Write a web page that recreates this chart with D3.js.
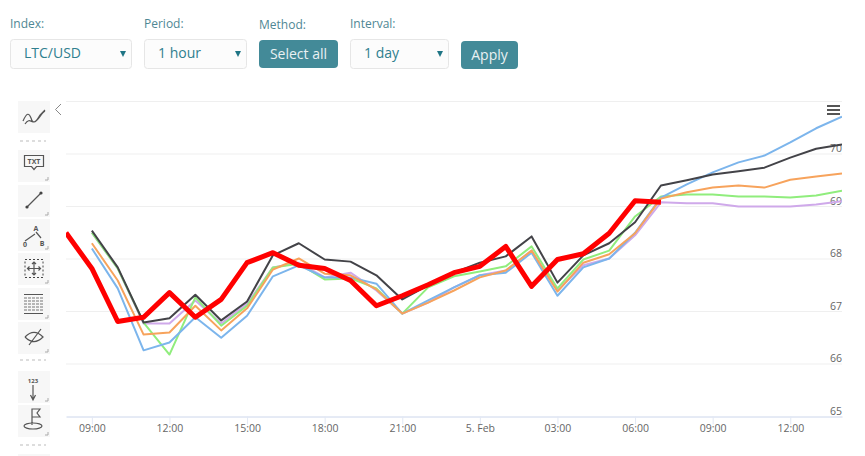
<!DOCTYPE html>
<html>
<head>
<meta charset="utf-8">
<script src="https://cdn.jsdelivr.net/npm/d3@7"></script>
<style>
  html, body { margin: 0; padding: 0; background: #fff; overflow: hidden; }
  svg { display: block; }
  .form-label { font: 12px "Open Sans", sans-serif; fill: #4f8794; }
  .select-text { font: 14px "Open Sans", sans-serif; fill: #2f7f8f; }
  .button-text { font: 14px "Open Sans", sans-serif; fill: #e9f1f3; }
  .x-axis text, .y-label { font: 10.5px "Open Sans", sans-serif; fill: #666; }
</style>
</head>
<body>
<div id="wrapper"></div>
<script>
// hourly values, first point of the red series is one hour earlier than the rest
const redValues = [68.50,67.82,66.81,66.89,67.36,66.89,67.23,67.93,68.12,67.88,67.82,67.59,67.11,67.30,67.51,67.74,67.86,68.24,67.48,67.99,68.10,68.49,69.11,69.08]
const blackValues = [68.54,67.84,66.79,66.87,67.32,66.83,67.19,68.07,68.30,67.99,67.95,67.69,67.23,67.50,67.74,67.93,68.05,68.43,67.55,68.07,68.30,68.70,69.40,69.50,69.61,69.67,69.74,69.93,70.10,70.18]
const blueValues = [68.20,67.44,66.26,66.41,66.89,66.50,66.92,67.67,67.88,67.65,67.65,67.53,66.96,67.21,67.46,67.69,67.74,68.12,67.30,67.84,68.01,68.50,69.17,69.42,69.65,69.84,69.97,70.22,70.49,70.71]
const orangeValues = [68.30,67.59,66.56,66.60,67.11,66.64,67.06,67.80,68.01,67.72,67.69,67.42,66.96,67.17,67.40,67.65,67.78,68.16,67.38,67.93,68.09,68.49,69.15,69.27,69.36,69.40,69.36,69.51,69.57,69.63]
const greenValues = [68.50,67.82,66.79,66.18,67.27,66.73,67.11,67.84,67.91,67.61,67.63,67.44,66.96,67.46,67.67,67.76,67.86,68.24,67.44,67.99,68.16,68.81,69.19,69.23,69.23,69.19,69.19,69.17,69.21,69.30]
const purpleValues = [68.50,67.82,66.77,66.77,67.21,66.77,67.15,67.84,67.93,67.65,67.74,67.40,66.96,67.17,67.46,67.69,67.78,68.16,67.40,67.88,68.01,68.45,69.08,69.06,69.06,69.00,69.00,69.00,69.04,69.10]

const yTicks = [65, 66, 67, 68, 69, 70, 71]
const xTickHours = [0, 3, 6, 9, 12, 15, 18, 21, 24, 27]
const xTickLabels = ["09:00", "12:00", "15:00", "18:00", "21:00", "5. Feb", "03:00", "06:00", "09:00", "12:00"]

const dimensions = { width: 865, height: 456 }

const wrapper = d3.select("#wrapper")
  .append("svg")
    .attr("width", dimensions.width)
    .attr("height", dimensions.height)

// Form row
const selects = [
  { label: "Index:", text: "LTC/USD", x: 10, w: 122 },
  { label: "Period:", text: "1 hour", x: 144, w: 103 },
  { label: "Interval:", text: "1 day", x: 350, w: 99 },
]
const buttons = [
  { text: "Select all", x: 259, w: 79, y: 40, h: 28 },
  { text: "Apply", x: 461, w: 57, y: 41, h: 28 },
]

const selectGroups = wrapper.selectAll(".select")
  .data(selects)
  .join("g")
    .attr("class", "select")
    .attr("transform", d => `translate(${d.x},0)`)

selectGroups.append("text").attr("class", "form-label").attr("x", 0).attr("y", 28).text(d => d.label)
selectGroups.append("rect")
  .attr("x", 0.5).attr("y", 39.5)
  .attr("width", d => d.w - 1).attr("height", 29)
  .attr("rx", 3)
  .attr("fill", "#fcfcfc").attr("stroke", "#e6e6e6")
selectGroups.append("text").attr("class", "select-text").attr("x", 14).attr("y", 58).text(d => d.text)
selectGroups.append("path")
  .attr("d", d => `M${d.w - 12},51 h6 l-3,6 z`)
  .attr("fill", "#1f7585")

wrapper.append("text").attr("class", "form-label").attr("x", 259).attr("y", 29).text("Method:")

const buttonGroups = wrapper.selectAll(".button")
  .data(buttons)
  .join("g")
    .attr("class", "button")
buttonGroups.append("rect")
  .attr("x", d => d.x).attr("y", d => d.y)
  .attr("width", d => d.w).attr("height", d => d.h)
  .attr("rx", 4)
  .attr("fill", "#438a98")
buttonGroups.append("text")
  .attr("class", "button-text")
  .attr("x", d => d.x + d.w / 2).attr("y", d => d.y + 18.5)
  .attr("text-anchor", "middle")
  .text(d => d.text)

// Scales
const startTime = new Date(2019, 1, 4, 9)
const hourToDate = h => d3.timeHour.offset(startTime, h)

const xScale = d3.scaleTime()
  .domain([hourToDate(-1), hourToDate(29)])
  .range([66, 842])

const yScale = d3.scaleLinear()
  .domain([65, 71])
  .range([416.5, 101.5])

// Gridlines and y labels
const chart = wrapper.append("g")

chart.selectAll(".grid")
  .data(yTicks.slice(1))
  .join("line")
    .attr("class", "grid")
    .attr("x1", 66).attr("x2", 842)
    .attr("y1", d => yScale(d)).attr("y2", d => yScale(d))
    .attr("stroke", "#efefef")

chart.selectAll(".y-label")
  .data(yTicks.slice(0, -1))
  .join("text")
    .attr("class", "y-label")
    .attr("x", 842)
    .attr("y", d => yScale(d) - 2)
    .attr("text-anchor", "end")
    .text(d => d)

// X axis
const xAxis = d3.axisBottom(xScale)
  .tickValues(xTickHours.map(hourToDate))
  .tickFormat((d, i) => xTickLabels[i])
  .tickSizeInner(8)
  .tickSizeOuter(0)
  .tickPadding(0)

const xAxisGroup = chart.append("g")
  .attr("class", "x-axis")
  .attr("transform", `translate(0,${yScale(65)})`)
  .call(xAxis)
xAxisGroup.select(".domain").attr("stroke", "#ccd6eb")
xAxisGroup.selectAll(".tick line").attr("stroke", "#e2e8f4")

// Lines
wrapper.append("clipPath").attr("id", "plot-clip")
  .append("rect").attr("x", 66).attr("y", 95).attr("width", 776).attr("height", 322)

const lineGenerator = d3.line()
  .x(d => xScale(hourToDate(d.hour)))
  .y(d => yScale(d.value))

const series = [
  { values: purpleValues, start: 0, color: "#cfa9ea", width: 2 },
  { values: greenValues, start: 0, color: "#90ed7d", width: 2 },
  { values: blueValues, start: 0, color: "#7cb5ec", width: 2 },
  { values: orangeValues, start: 0, color: "#f7a35c", width: 2 },
  { values: blackValues, start: 0, color: "#434348", width: 2 },
  { values: redValues, start: -1, color: "#ff0000", width: 5 },
]

chart.append("g")
  .attr("clip-path", "url(#plot-clip)")
  .selectAll("path")
  .data(series)
  .join("path")
    .attr("d", s => lineGenerator(s.values.map((value, i) => ({ hour: s.start + i, value }))))
    .attr("fill", "none")
    .attr("stroke", s => s.color)
    .attr("stroke-width", s => s.width)
    .attr("stroke-linejoin", "round")

// Chart menu and toolbar collapse arrow
wrapper.selectAll(".menu-bar")
  .data([106, 110, 114])
  .join("line")
    .attr("class", "menu-bar")
    .attr("x1", 827).attr("x2", 840)
    .attr("y1", d => d).attr("y2", d => d)
    .attr("stroke", "#555").attr("stroke-width", 2)

wrapper.append("path")
  .attr("d", "M61,104 L55.5,109.5 L61,115")
  .attr("fill", "none").attr("stroke", "#888")

// Toolbar
const toolButtons = [
  { y: 101, corner: false, icon: "M23,121 C27,112 29,113 31,118 C33,125 36,122 40,115 L45,110 M25,124 C29,118 31,122 34,122 C38,122 41,113 45,111" },
  { y: 150, corner: true, icon: "M24.5,155.5 h19 v11 h-7 l-2.5,3 l-2.5,-3 h-7 z" },
  { y: 185, corner: true, icon: "M27,207 L41,193" },
  { y: 219, corner: true, icon: "M25,241 L35,234 M36,232 L41,238" },
  { y: 253, corner: true, icon: "M34,262 v13 M27.5,268.5 h13 M32,264 l2,-2 l2,2 M32,273 l2,2 l2,-2 M29.5,266.5 l-2,2 l2,2 M38.5,266.5 l2,2 l-2,2" },
  { y: 288, corner: true, icon: "M24,294.5 h19 M24,313.5 h19" },
  { y: 322, corner: true, icon: "M25,337 q9,-9 18,0 q-9,9 -18,0 M29,345 L41,329" },
  { y: 371, corner: true, icon: "M33,385 v14 M30.5,395 l2.5,5 l2.5,-5" },
  { y: 405, corner: true, icon: "M32,425 v-16 h8 l-3,4 l3,4 h-8 M24,426 a9,3 0 1,0 18,0 a9,3 0 1,0 -18,0" },
]
const toolDashes = [141, 360, 445]
const gridIconRows = [298, 301, 304, 307, 310]

wrapper.selectAll(".tool-box")
  .data(toolButtons)
  .join("rect")
    .attr("class", "tool-box")
    .attr("x", 18).attr("y", d => d.y)
    .attr("width", 32).attr("height", 32)
    .attr("fill", "#f7f7f7")

wrapper.selectAll(".tool-corner")
  .data(toolButtons.filter(d => d.corner))
  .join("path")
    .attr("class", "tool-corner")
    .attr("d", d => `M48,${d.y + 27} v3 h-3`)
    .attr("fill", "none")
    .attr("stroke", "#aaa")

wrapper.selectAll(".tool-icon")
  .data(toolButtons)
  .join("path")
    .attr("class", "tool-icon")
    .attr("d", d => d.icon)
    .attr("fill", "none")
    .attr("stroke", "#555")
    .attr("stroke-width", 1.2)

// dotted frame of the crosshair icon, dotted rows of the grid icon, ends of the line tool
wrapper.append("rect")
  .attr("x", 25).attr("y", 259.5).attr("width", 18).attr("height", 18)
  .attr("fill", "none").attr("stroke", "#444").attr("stroke-dasharray", "2 2")

wrapper.selectAll(".grid-row")
  .data(gridIconRows)
  .join("line")
    .attr("class", "grid-row")
    .attr("x1", 24).attr("x2", 43)
    .attr("y1", d => d).attr("y2", d => d)
    .attr("stroke", "#777").attr("stroke-width", 1.2).attr("stroke-dasharray", "3 1")

wrapper.selectAll(".line-end")
  .data([[27, 207], [41, 193]])
  .join("circle")
    .attr("class", "line-end")
    .attr("cx", d => d[0]).attr("cy", d => d[1]).attr("r", 1.6)
    .attr("fill", "#444")

wrapper.selectAll(".tool-dash")
  .data(toolDashes)
  .join("line")
    .attr("class", "tool-dash")
    .attr("x1", 20).attr("x2", 46)
    .attr("y1", d => d).attr("y2", d => d)
    .attr("stroke", "#bbb")
    .attr("stroke-dasharray", "3 3")

wrapper.append("rect")
  .attr("x", 18).attr("y", 454).attr("width", 32).attr("height", 2)
  .attr("fill", "#f7f7f7")

const toolTexts = [
  { text: "TXT", x: 34, y: 164, size: 7 },
  { text: "A", x: 36, y: 231, size: 7 },
  { text: "0", x: 25, y: 247, size: 7 },
  { text: "B", x: 42, y: 246, size: 7 },
  { text: "123", x: 33, y: 383, size: 6 },
]
wrapper.selectAll(".tool-text")
  .data(toolTexts)
  .join("text")
    .attr("class", "tool-text")
    .attr("x", d => d.x).attr("y", d => d.y)
    .attr("text-anchor", "middle")
    .attr("font-family", "Open Sans, sans-serif")
    .attr("font-weight", 700)
    .attr("font-size", d => d.size)
    .attr("fill", "#555")
    .text(d => d.text)
</script>
</body>
</html>
